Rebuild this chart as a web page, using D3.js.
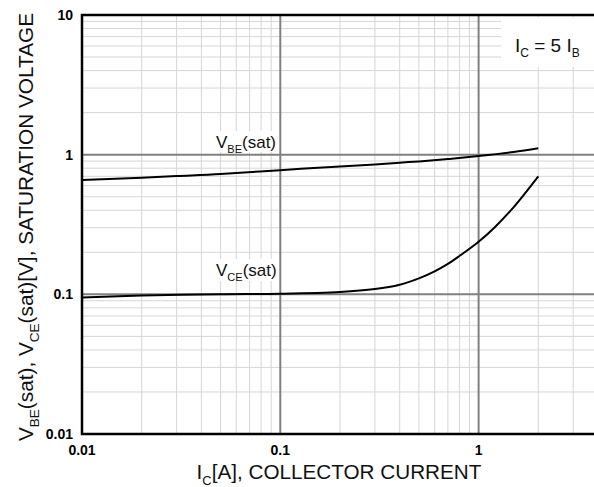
<!DOCTYPE html>
<html>
<head>
<meta charset="utf-8">
<script src="https://cdn.jsdelivr.net/npm/d3@7"></script>
<style>
body { margin: 0; background: #fff; }
text { font-family: Arial, "Liberation Sans", sans-serif; }
</style>
</head>
<body>
<script>
var width = 594,
    height = 487;

// data
var icBE = [0.01, 0.02, 0.03, 0.05, 0.1, 0.2, 0.3, 0.4, 0.5, 0.7, 1, 1.5, 2];
var vbeSat = [0.658, 0.684, 0.703, 0.727, 0.775, 0.824, 0.852, 0.877, 0.895, 0.93, 0.977, 1.044, 1.11];
var icCE = [0.01, 0.02, 0.05, 0.1, 0.2, 0.3, 0.4, 0.5, 0.6, 0.7, 0.8, 1, 1.2, 1.5, 2];
var vceSat = [0.095, 0.098, 0.1, 0.101, 0.104, 0.109, 0.117, 0.130, 0.146, 0.165, 0.188, 0.238, 0.300, 0.42, 0.70];
var xTicks = [0.01, 0.1, 1];
var yTicks = [0.01, 0.1, 1, 10];

var plotLeft = 82, plotTop = 15, plotBottom = 434;

var x = d3.scaleLog().domain([0.01, 10]).range([plotLeft, plotLeft + 3 * 198.3]);
var y = d3.scaleLog().domain([0.01, 10]).range([plotBottom, plotTop]);

var svg = d3.select("body").append("svg")
    .attr("width", width)
    .attr("height", height);

// minor grid
var minor = [];
[0.01, 0.1, 1].forEach(function (d) {
    for (var k = 2; k <= 9; k++) minor.push(d * k);
});

svg.append("g").selectAll("line")
    .data(minor.filter(function (d) { return x(d) < width; }))
    .enter().append("line")
    .attr("x1", function (d) { return x(d); })
    .attr("x2", function (d) { return x(d); })
    .attr("y1", plotTop).attr("y2", plotBottom)
    .attr("stroke", "#d6d6d6").attr("stroke-width", 1);

svg.append("g").selectAll("line")
    .data(minor)
    .enter().append("line")
    .attr("x1", plotLeft).attr("x2", width)
    .attr("y1", function (d) { return y(d); })
    .attr("y2", function (d) { return y(d); })
    .attr("stroke", "#d6d6d6").attr("stroke-width", 1);

// major grid
svg.append("g").selectAll("line")
    .data([0.1, 1])
    .enter().append("line")
    .attr("x1", function (d) { return x(d); })
    .attr("x2", function (d) { return x(d); })
    .attr("y1", plotTop).attr("y2", plotBottom)
    .attr("stroke", "#808080").attr("stroke-width", 2);

svg.append("g").selectAll("line")
    .data([0.1, 1])
    .enter().append("line")
    .attr("x1", plotLeft).attr("x2", width)
    .attr("y1", function (d) { return y(d); })
    .attr("y2", function (d) { return y(d); })
    .attr("stroke", "#808080").attr("stroke-width", 2);

// white boxes behind the labels
svg.append("rect").attr("x", 501).attr("y", plotTop + 2).attr("width", 93).attr("height", 50).attr("fill", "#fff");
svg.append("rect").attr("x", 213).attr("y", 131).attr("width", 66).attr("height", 21).attr("fill", "#fff");
svg.append("rect").attr("x", 213).attr("y", 259).attr("width", 66).attr("height", 22).attr("fill", "#fff");

// frame
svg.append("path")
    .attr("d", "M" + width + "," + plotTop + "H" + plotLeft + "V" + plotBottom + "H" + width)
    .attr("fill", "none").attr("stroke", "#000").attr("stroke-width", 2.5);

// curves
var line = d3.line()
    .x(function (d) { return x(d[0]); })
    .y(function (d) { return y(d[1]); })
    .curve(d3.curveCatmullRom.alpha(0.5));

svg.append("path")
    .datum(icBE.map(function (d, i) { return [d, vbeSat[i]]; }))
    .attr("d", line)
    .attr("fill", "none").attr("stroke", "#000").attr("stroke-width", 2);

svg.append("path")
    .datum(icCE.map(function (d, i) { return [d, vceSat[i]]; }))
    .attr("d", line)
    .attr("fill", "none").attr("stroke", "#000").attr("stroke-width", 2);

// tick labels
svg.append("g").selectAll("text")
    .data(yTicks)
    .enter().append("text")
    .attr("x", 73)
    .attr("y", function (d) { return y(d) + 5; })
    .attr("text-anchor", "end")
    .attr("font-size", 14).attr("font-weight", "bold")
    .text(function (d) { return d; });

svg.append("g").selectAll("text")
    .data(xTicks)
    .enter().append("text")
    .attr("x", function (d) { return x(d); })
    .attr("y", 455)
    .attr("text-anchor", "middle")
    .attr("font-size", 14).attr("font-weight", "bold")
    .text(function (d) { return d; });

// helper for text with subscripts: parts = [[text, isSub], ...]
function subText(g, parts, size, subSize) {
    var t = g.append("text").attr("font-size", size).attr("fill", "#111");
    parts.forEach(function (p, i) {
        var ts = t.append("tspan").text(p[0]);
        if (p[1]) ts.attr("font-size", subSize).attr("dy", size * 0.28);
        else if (i > 0 && parts[i - 1][1]) ts.attr("dy", -size * 0.28);
    });
    return t;
}

subText(svg, [["V", 0], ["BE", 1], ["(sat)", 0]], 17, 11)
    .attr("x", 216).attr("y", 148);
subText(svg, [["V", 0], ["CE", 1], ["(sat)", 0]], 17, 11)
    .attr("x", 216).attr("y", 276);
subText(svg, [["I", 0], ["C", 1], [" = 5 I", 0], ["B", 1]], 19, 12)
    .attr("x", 515).attr("y", 52);

// axis titles
subText(svg, [["I", 0], ["C", 1], ["[A], COLLECTOR CURRENT", 0]], 20.7, 13)
    .attr("x", 339).attr("y", 479).attr("text-anchor", "middle");

subText(svg, [["V", 0], ["BE", 1], ["(sat), V", 0], ["CE", 1], ["(sat)[V], SATURATION VOLTAGE", 0]], 20.8, 13.5)
    .attr("text-anchor", "middle")
    .attr("transform", "translate(33,227) rotate(-90)");
</script>
</body>
</html>
